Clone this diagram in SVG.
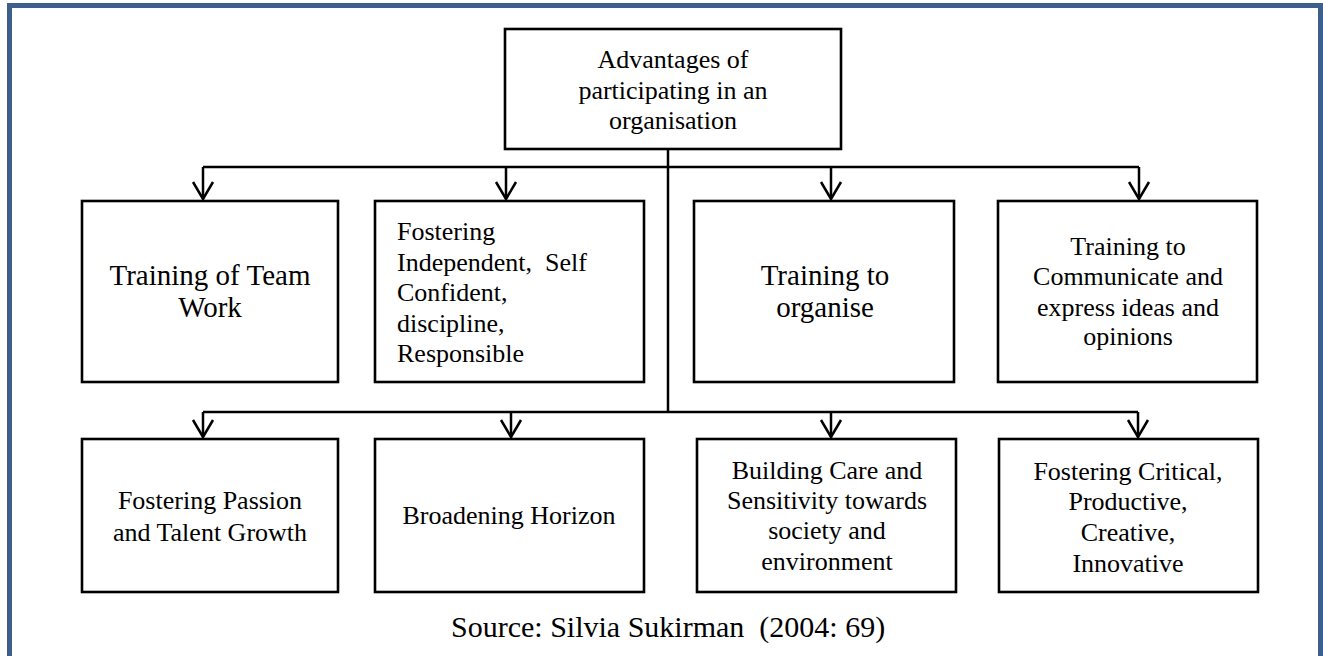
<svg xmlns="http://www.w3.org/2000/svg" width="1323" height="656" viewBox="0 0 1323 656">
<style>
.box{fill:#fff;stroke:#000;stroke-width:2.6}
.t{font-family:"Liberation Serif","Times New Roman",serif;font-size:26px;fill:#000;text-anchor:middle}
.big{font-size:29px}
.src{font-size:30px}
.l{text-anchor:start;white-space:pre}
.c{fill:none;stroke:#000;stroke-width:2.5}
</style>
<defs>
<marker id="arr" markerUnits="userSpaceOnUse" markerWidth="22" markerHeight="26" refX="19" refY="13" orient="auto" viewBox="0 0 22 26">
<path d="M2,3 L19,13 L2,23" fill="none" stroke="#000" stroke-width="2.5"/>
</marker>
</defs>
<rect width="1323" height="656" fill="#fff"/>
<path d="M9.5,660 V5.5 H1320.5 V660" fill="none" stroke="#3c5f8e" stroke-width="5"/>
<g id="connectors">
<path class="c" d="M668,149 V413"/>
<path class="c" d="M203,167 H1139"/>
<path class="c" d="M203,167 V199" marker-end="url(#arr)"/>
<path class="c" d="M506,167 V199" marker-end="url(#arr)"/>
<path class="c" d="M831,167 V199" marker-end="url(#arr)"/>
<path class="c" d="M1139,167 V199" marker-end="url(#arr)"/>
<path class="c" d="M203,412 H1138"/>
<path class="c" d="M203,412 V437" marker-end="url(#arr)"/>
<path class="c" d="M511,412 V437" marker-end="url(#arr)"/>
<path class="c" d="M831,412 V437" marker-end="url(#arr)"/>
<path class="c" d="M1138,412 V437" marker-end="url(#arr)"/>
</g>
<g id="root">
<rect class="box" x="505" y="29" width="336" height="120"/>
<text class="t" x="673" y="68">Advantages of</text>
<text class="t" x="673" y="99">participating in an</text>
<text class="t" x="673" y="129">organisation</text>
</g>
<g id="n1">
<rect class="box" x="82" y="201" width="256" height="181"/>
<text class="t big" x="210" y="285">Training of Team</text>
<text class="t big" x="210" y="317">Work</text>
</g>
<g id="n2">
<rect class="box" x="375" y="201" width="269" height="181"/>
<text class="t l" x="397" y="240">Fostering</text>
<text class="t l" x="397" y="271">Independent,  Self</text>
<text class="t l" x="397" y="301">Confident,</text>
<text class="t l" x="397" y="332">discipline,</text>
<text class="t l" x="397" y="362">Responsible</text>
</g>
<g id="n3">
<rect class="box" x="694" y="201" width="260" height="181"/>
<text class="t big" x="825" y="285">Training to</text>
<text class="t big" x="825" y="317">organise</text>
</g>
<g id="n4">
<rect class="box" x="998" y="201" width="259" height="181"/>
<text class="t" x="1128" y="255">Training to</text>
<text class="t" x="1128" y="285">Communicate and</text>
<text class="t" x="1128" y="316">express ideas and</text>
<text class="t" x="1128" y="345">opinions</text>
</g>
<g id="n5">
<rect class="box" x="82" y="439" width="256" height="153"/>
<text class="t" x="210" y="509">Fostering Passion</text>
<text class="t" x="210" y="541">and Talent Growth</text>
</g>
<g id="n6">
<rect class="box" x="375" y="439" width="269" height="153"/>
<text class="t" x="509" y="524">Broadening Horizon</text>
</g>
<g id="n7">
<rect class="box" x="697" y="439" width="259" height="153"/>
<text class="t" x="827" y="479">Building Care and</text>
<text class="t" x="827" y="509">Sensitivity towards</text>
<text class="t" x="827" y="539">society and</text>
<text class="t" x="827" y="570">environment</text>
</g>
<g id="n8">
<rect class="box" x="999" y="439" width="259" height="153"/>
<text class="t" x="1128" y="480">Fostering Critical,</text>
<text class="t" x="1128" y="510">Productive,</text>
<text class="t" x="1128" y="541">Creative,</text>
<text class="t" x="1128" y="572">Innovative</text>
</g>
<text class="t l src" x="451" y="637">Source: Silvia Sukirman  (2004: 69)</text>
</svg>
